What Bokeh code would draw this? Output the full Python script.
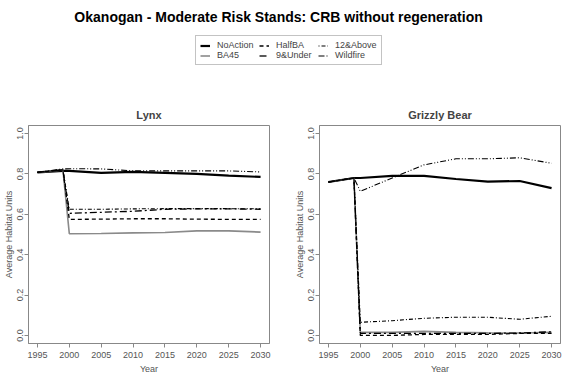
from bokeh.plotting import figure
from bokeh.layouts import column, row
from bokeh.models import Legend, LegendItem, Label, Range1d, FixedTicker, PrintfTickFormatter
from bokeh.embed import file_html
from bokeh.resources import INLINE

# ---------------- data ----------------
years = [1995, 1999, 2000, 2005, 2010, 2015, 2020, 2025, 2030]
series = ["NoAction", "BA45", "HalfBA", "9&Under", "12&Above", "Wildfire"]

lynx_noaction = [0.808, 0.815, 0.815, 0.805, 0.810, 0.805, 0.800, 0.792, 0.785]
lynx_ba45 = [0.808, 0.820, 0.504, 0.505, 0.508, 0.510, 0.518, 0.518, 0.512]
lynx_halfba = [0.808, 0.820, 0.575, 0.576, 0.578, 0.578, 0.576, 0.575, 0.575]
lynx_9under = [0.808, 0.820, 0.605, 0.610, 0.615, 0.625, 0.627, 0.627, 0.625]
lynx_12above = [0.808, 0.820, 0.625, 0.625, 0.627, 0.628, 0.628, 0.628, 0.627]
lynx_wildfire = [0.808, 0.825, 0.826, 0.825, 0.815, 0.815, 0.815, 0.815, 0.810]

grizzly_noaction = [0.760, 0.780, 0.780, 0.790, 0.790, 0.775, 0.762, 0.765, 0.730]
grizzly_ba45 = [0.760, 0.780, 0.015, 0.015, 0.020, 0.015, 0.013, 0.012, 0.015]
grizzly_halfba = [0.760, 0.780, 0.000, 0.000, 0.005, 0.005, 0.005, 0.010, 0.010]
grizzly_9under = [0.760, 0.780, 0.010, 0.010, 0.010, 0.010, 0.010, 0.012, 0.018]
grizzly_12above = [0.760, 0.780, 0.065, 0.073, 0.085, 0.090, 0.090, 0.080, 0.095]
grizzly_wildfire = [0.760, 0.780, 0.714, 0.780, 0.845, 0.875, 0.875, 0.880, 0.853]

x_ticks = [1995, 2000, 2005, 2010, 2015, 2020, 2025, 2030]
y_ticks = [0.0, 0.2, 0.4, 0.6, 0.8, 1.0]

main_title = "Okanogan  - Moderate Risk Stands: CRB without regeneration"
panel_titles = ["Lynx", "Grizzly Bear"]

FONT = "Liberation Sans"

styles = {
    "NoAction": dict(line_color="black", line_width=2.2, line_dash="solid"),
    "BA45": dict(line_color="#8a8a8a", line_width=1.6, line_dash="solid"),
    "HalfBA": dict(line_color="black", line_width=1.3, line_dash="4 3"),
    "9&Under": dict(line_color="black", line_width=1.3, line_dash="7 3 2 3"),
    "12&Above": dict(line_color="black", line_width=1.1, line_dash="1 2 4 2"),
    "Wildfire": dict(line_color="black", line_width=1.1, line_dash="6 2 1 2 1 2"),
}

# ---------------- header (title + legend) ----------------
W = 560
header = figure(width=W, height=92, output_backend="svg", toolbar_location=None,
                x_range=Range1d(0, 1), y_range=Range1d(0, 1),
                x_axis_type=None, y_axis_type=None, min_border=0)
header.outline_line_color = None
header.grid.visible = False

header.add_layout(Label(x=280, y=76, x_units="screen", y_units="screen", text=main_title,
                        text_align="center", text_baseline="middle", text_font=FONT,
                        text_font_size="14px", text_font_style="bold", text_color="black"))

items = []
for s in series:
    # legend sample renderers, kept outside the visible range
    r = header.line(x=[-10, -9], y=[-10, -10], **styles[s])
    items.append(LegendItem(label=s, renderers=[r]))
legend = Legend(items=items, location=(195, 27), orientation="vertical", nrows=2,
                border_line_color="#888888", border_line_width=1, padding=4, spacing=0,
                margin=0, label_text_font=FONT, label_text_font_size="9px",
                label_text_color="#444444", label_height=9, glyph_height=9,
                glyph_width=10, label_standoff=7, label_width=42, background_fill_alpha=1)
header.add_layout(legend)

# ---------------- panels ----------------
panel_data = [
    [lynx_noaction, lynx_ba45, lynx_halfba, lynx_9under, lynx_12above, lynx_wildfire],
    [grizzly_noaction, grizzly_ba45, grizzly_halfba, grizzly_9under, grizzly_12above, grizzly_wildfire],
]

figs = []
for i, (ttl, data) in enumerate(zip(panel_titles, panel_data)):
    p = figure(frame_width=241, frame_height=218, output_backend="svg", toolbar_location=None,
               x_range=Range1d(1993.6, 2031.4), y_range=Range1d(-0.04, 1.04),
               min_border_top=33, min_border_bottom=28, min_border_left=24,
               min_border_right=22 if i == 0 else 8)
    p.title.text = ttl
    p.title.align = "center"
    p.title.text_font = FONT
    p.title.text_font_size = "11px"
    p.title.text_font_style = "bold"
    p.title.standoff = 10
    p.grid.visible = False
    p.outline_line_color = "#888888"
    p.outline_line_width = 1
    for s, ys in zip(series, data):
        p.line(years, ys, **styles[s])
    p.xaxis.ticker = FixedTicker(ticks=x_ticks)
    p.yaxis.ticker = FixedTicker(ticks=y_ticks)
    p.yaxis.formatter = PrintfTickFormatter(format="%.1f")
    p.yaxis.major_label_orientation = "vertical"
    p.xaxis.axis_label = "Year"
    p.yaxis.axis_label = "Average Habitat Units"
    for ax in (p.xaxis[0], p.yaxis[0]):
        ax.axis_line_color = "#888888"
        ax.major_tick_line_color = "#888888"
        ax.minor_tick_line_color = None
        ax.major_tick_out = 4
        ax.major_tick_in = 0
        ax.major_label_standoff = 1
        ax.axis_label_standoff = 1
        ax.major_label_text_font = FONT
        ax.major_label_text_font_size = "9px"
        ax.major_label_text_color = "#555555"
        ax.axis_label_text_font = FONT
        ax.axis_label_text_font_size = "9px"
        ax.axis_label_text_font_style = "normal"
        ax.axis_label_text_color = "#555555"
    p.xaxis[0].major_label_standoff = 4
    p.xaxis[0].axis_label_standoff = 3
    figs.append(p)

layout = column(header, row(*figs, spacing=0), spacing=0)

with open("out.html", "w") as f:
    f.write(file_html(layout, INLINE))
